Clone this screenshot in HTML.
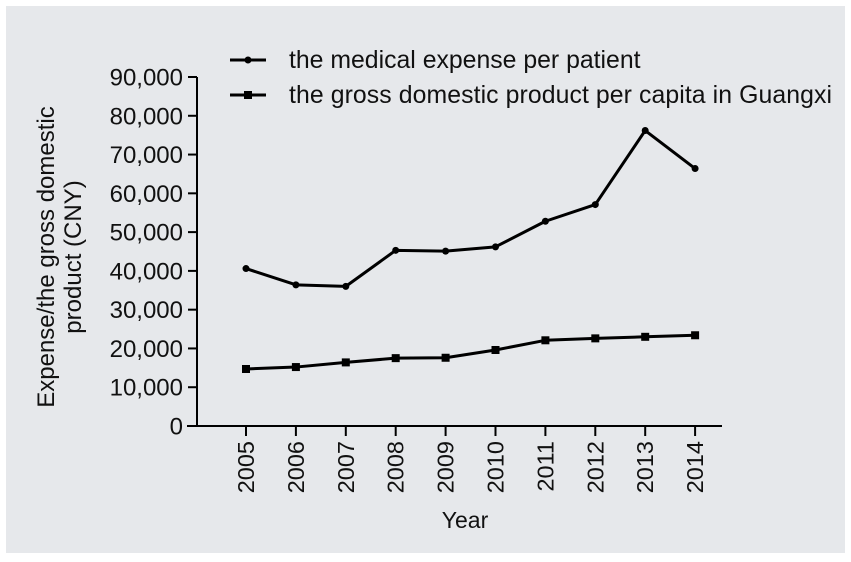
<!DOCTYPE html>
<html><head><style>
body{margin:0;background:#fff;}
svg{display:block;font-family:"Liberation Sans",Arial,sans-serif;}
</style></head><body>
<svg width="851" height="562">
<rect x="6" y="6" width="839" height="547" fill="#e6e8eb"/>
<g id="plot"></g>
<text transform="translate(54,257) rotate(-90)" text-anchor="middle" font-size="24" fill="#111"><tspan x="0" dy="0">Expense/the gross domestic</tspan><tspan x="0" dy="27">product (CNY)</tspan></text>
<text x="465" y="528" text-anchor="middle" font-size="23" fill="#111">Year</text>
<g>
<g>
<line x1="230" y1="60" x2="266" y2="60" stroke="#000" stroke-width="3"/><circle cx="248" cy="60" r="3.5"/>
<text x="289" y="68" font-size="24.8" fill="#111">the medical expense per patient</text></g>
<g>
<line x1="230" y1="95" x2="266" y2="95" stroke="#000" stroke-width="3"/><rect x="244" y="91" width="8" height="8"/>
<text x="289" y="103" font-size="24.8" fill="#111" textLength="543">the gross domestic product per capita in Guangxi</text></g>
</g>
</svg>
<script>
const years=["2005","2006","2007","2008","2009","2010","2011","2012","2013","2014"];
const medical=[40600,36400,36000,45300,45100,46200,52800,57100,76200,66400];
const gdp=[14700,15200,16400,17500,17600,19600,22100,22600,23000,23400];
const yTicks=[0,10000,20000,30000,40000,50000,60000,70000,80000,90000];
const NS="http://www.w3.org/2000/svg";
const g=document.getElementById('plot');
const X=i=>246+i*49.9, Y=v=>426-v/90000*349;
function mk(t,a){const e=document.createElementNS(NS,t);for(const k in a)e.setAttribute(k,a[k]);g.appendChild(e);return e;}
let ax=mk('line',{x1:197,y1:Y(90000),x2:197,y2:427,stroke:'#000','stroke-width':2});


let bx=mk('line',{x1:187,y1:426,x2:722,y2:426,stroke:'#000','stroke-width':2});


yTicks.forEach(v=>{
 mk('line',{x1:188,y1:Y(v),x2:197,y2:Y(v),stroke:'#000','stroke-width':2});
 const t=mk('text',{x:183,y:Y(v)+8.5,'text-anchor':'end','font-size':24,fill:'#111'});t.textContent=v.toLocaleString('en-US');
 
 
});
years.forEach((y,i)=>{
 mk('line',{x1:X(i),y1:426,x2:X(i),y2:436,stroke:'#000','stroke-width':2});
 const t=mk('text',{transform:`translate(${X(i)+8},441) rotate(-90)`,'text-anchor':'end','font-size':23.5,fill:'#111'});t.textContent=y;
 
 
});
function series(arr,name,sq){
 const p=mk('polyline',{points:arr.map((v,i)=>X(i)+','+Y(v)).join(' '),fill:'none',stroke:'#000','stroke-width':3,'stroke-linejoin':'round'});
 
 
 arr.forEach((v,i)=>{
  const m=sq?mk('rect',{x:X(i)-4,y:Y(v)-4,width:8,height:8}):mk('circle',{cx:X(i),cy:Y(v),r:3.5});
  
  
 });
}
series(medical,'medical-expense',false);
series(gdp,'gdp-per-capita',true);
</script>
</body></html>
